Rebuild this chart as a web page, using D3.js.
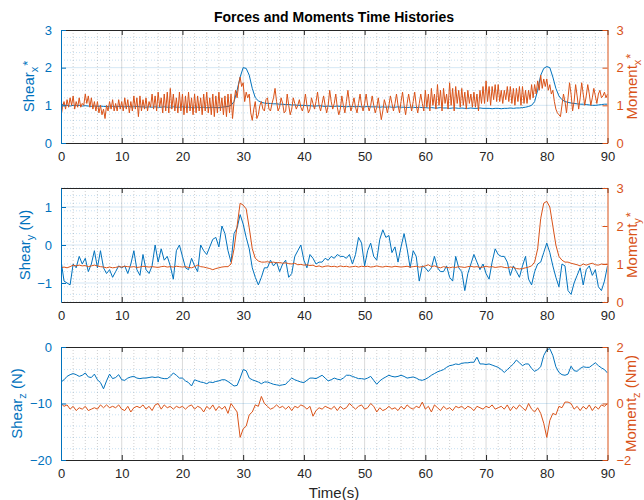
<!DOCTYPE html>
<html lang="en">
<head>
  <meta charset="UTF-8">
  <title>Forces and Moments Time Histories</title>
  <script src="https://d3js.org/d3.v7.min.js"></script>
  <style>
    body { margin: 0; background: #fff; }
    svg { font-family: "Liberation Sans", Arial, Helvetica, sans-serif; }
  </style>
</head>
<body>
  <svg id="chart" width="644" height="500"></svg>

  <script>
    // ---- data (shear/moment y,z every 0.5 s; moment x every 0.25 s; 0..90 s) ----
    const xTicks = [0, 10, 20, 30, 40, 50, 60, 70, 80, 90];

    const shearX = [
      1.05,1.0,1.0,0.98,1.0,0.99,1.0,0.98,0.99,0.98,0.97,0.98,0.97,0.98,0.97,0.97,0.96,0.97,0.96,0.97,
      0.97,0.96,0.97,0.96,0.96,0.97,0.96,0.96,0.95,0.96,0.95,0.96,0.95,0.95,0.96,0.95,0.95,0.96,0.95,0.95,
      0.96,0.95,0.95,0.94,0.95,0.95,0.94,0.95,0.94,0.94,0.95,0.94,0.94,0.95,0.96,0.97,1.0,1.1,1.4,1.75,
      2.0,1.98,1.8,1.45,1.2,1.12,1.08,1.06,1.05,1.05,1.04,1.04,1.03,1.03,1.02,1.02,1.01,1.01,1.0,1.0,
      1.0,0.99,0.99,0.98,0.98,0.99,0.98,0.97,0.98,0.97,0.97,0.98,0.97,0.97,0.96,0.97,0.97,0.96,0.97,0.96,
      0.96,0.97,0.96,0.96,0.96,0.95,0.96,0.95,0.96,0.95,0.95,0.96,0.95,0.95,0.94,0.95,0.95,0.94,0.95,0.94,
      0.94,0.93,0.94,0.93,0.93,0.94,0.93,0.93,0.92,0.93,0.93,0.92,0.93,0.92,0.92,0.93,0.92,0.92,0.93,0.92,
      0.92,0.92,0.91,0.92,0.92,0.91,0.92,0.92,0.93,0.92,0.93,0.93,0.94,0.95,0.97,1.0,1.1,1.4,1.8,1.98,
      2.03,2.0,1.75,1.45,1.25,1.15,1.1,1.08,1.06,1.05,1.04,1.03,1.03,1.02,1.01,1.0,1.0,1.01,1.02,1.03,1.03
    ];

    const momentX = [
      0.7,0.95,1.1,0.9, 1.15,0.95,1.2,1.0, 1.25,0.9,1.1,0.95, 1.2,0.95,1.05,1.0, 1.3,1.05,1.25,0.95,
      1.2,0.9,1.1,0.85, 1.1,0.8,1.0,0.75, 0.9,0.65,1.0,0.85, 1.1,0.9,1.15,0.85, 1.05,0.85,1.15,0.9,
      1.1,0.85,1.2,0.9, 1.15,0.8,1.1,0.85, 1.25,0.9,1.2,0.7, 1.25,0.85,1.15,0.9, 1.2,0.85,1.1,0.95,
      1.3,0.9,1.25,0.85, 1.35,0.95,1.2,0.8, 1.3,0.85,1.35,0.8, 1.45,0.9,1.3,0.85, 1.2,0.8,1.35,0.85,
      1.3,0.75,1.25,0.8, 1.35,0.85,1.2,0.75, 1.3,0.8,1.25,0.85, 1.2,0.75,1.3,0.85, 1.35,0.8,1.2,0.75,
      1.3,0.7,1.25,0.8, 1.35,0.85,1.2,0.75, 1.25,0.7,1.3,0.8, 1.3,0.65,1.1,1.4, 1.2,1.55,1.75,1.5,
      1.6,1.1,1.35,1.2, 1.3,0.8,0.6,0.9, 1.1,0.65,0.75,1.0, 1.1,0.9,0.85,1.15, 1.2,0.9,0.85,1.05,
      1.2,1.45,1.1,0.85, 0.95,1.2,1.05,0.8, 0.85,1.3,1.0,0.75, 0.9,1.2,1.05,0.9, 1.0,1.15,0.95,0.85,
      1.0,1.3,1.0,0.8, 0.9,1.2,1.05,0.9, 1.1,1.35,1.0,0.85, 1.05,1.25,1.0,0.8, 1.0,1.4,1.1,0.9,
      1.05,1.3,0.95,0.75, 0.9,1.25,1.0,0.8, 1.1,1.4,1.05,0.85, 1.0,1.2,0.95,0.8, 1.05,1.3,1.0,0.85,
      1.05,1.3,1.0,0.85, 1.0,1.25,1.0,0.8, 0.95,1.2,0.9,0.62, 0.85,1.15,1.0,0.8, 1.0,1.25,1.05,0.85,
      1.05,1.3,1.0,0.8, 1.1,1.35,1.0,0.75, 1.05,1.3,1.05,0.85, 1.1,1.35,1.0,0.8, 1.05,1.3,1.05,0.85,
      1.4,0.95,1.3,0.85, 1.45,1.0,1.3,0.9, 1.55,1.0,1.4,0.85, 1.45,1.05,1.3,0.9, 1.6,1.0,1.45,0.85,
      1.5,1.05,1.4,0.95, 1.45,1.0,1.35,0.9, 1.4,1.05,1.3,0.95, 1.35,0.95,1.3,0.85, 1.4,1.05,1.5,1.05,
      1.65,1.1,1.5,1.0, 1.5,1.15,1.55,1.1, 1.55,1.1,1.4,1.05, 1.4,1.15,1.5,1.1, 1.5,1.05,1.45,1.0,
      1.45,1.1,1.5,1.0, 1.5,1.05,1.4,1.05, 1.4,1.15,1.55,1.2, 1.55,1.3,1.65,1.4, 1.8,1.45,1.7,1.5,
      1.7,1.4,1.55,1.3, 1.4,1.1,0.9,0.8, 0.75,0.7,1.0,1.3, 1.1,0.8,1.2,1.6, 1.3,0.85,1.1,1.55,
      1.25,0.9,1.2,1.6, 1.3,1.0,1.25,1.55, 1.3,1.0,1.2,1.45, 1.25,1.05,1.3,1.4, 1.2,1.25,1.35,1.2,
      1.3
    ];

    const shearY = [
      -0.4,-0.95,-1.0,-1.05,-0.5,-0.6,-0.3,-0.5,-0.35,-0.7,-0.5,-0.15,-0.6,-0.15,-0.6,-0.75,-0.65,-0.85,-0.7,-0.55,
      -0.6,-0.55,-0.75,-0.5,-0.15,-0.65,-0.8,-0.25,-0.65,-0.75,-0.55,0.0,-0.45,-0.1,-0.4,-0.3,-0.55,-0.9,-0.15,0.0,
      -0.3,-0.6,-0.65,-0.35,-0.55,-0.7,0.0,-0.15,-0.25,-0.05,0.15,0.2,-0.05,0.5,0.3,-0.15,-0.45,0.3,0.45,0.8,
      0.55,0.2,-0.1,-0.6,-0.85,-1.05,-0.85,-0.6,-0.6,-0.4,-0.55,-0.45,-0.7,-0.5,-0.4,-0.85,-0.75,-0.3,-0.15,0.0,
      -0.4,-0.6,-0.25,-0.35,-0.5,-0.45,-0.45,-0.35,-0.4,-0.3,-0.35,-0.25,-0.3,-0.3,-0.35,-0.25,-0.5,-0.25,0.2,0.05,
      -0.55,-0.15,0.05,-0.3,-0.4,0.15,0.4,0.2,0.25,-0.2,-0.05,-0.45,-0.05,0.3,-0.1,-0.6,-0.15,-0.3,-0.95,-0.55,
      -0.6,-0.7,-0.6,-0.3,-0.6,-0.7,-0.7,-0.55,-0.85,-0.95,-0.3,-0.6,-0.7,-1.2,-0.75,-0.5,-0.25,-0.45,-0.65,-0.5,
      -0.75,-0.9,-0.45,-0.1,-0.25,-0.3,-0.3,-0.45,-0.8,-0.55,-0.7,-0.85,-0.55,-0.3,-0.9,-1.05,-0.7,-0.5,-0.45,-0.2,
      0.05,-0.2,-0.55,-0.85,-1.1,-0.5,-0.55,-1.2,-1.3,-1.0,-0.8,-0.6,-1.05,-0.65,-0.55,-0.8,-0.65,-1.1,-1.2,-0.95,-0.55
    ];

    const momentY = [
      0.9,0.92,0.9,0.93,0.97,0.95,0.97,0.95,0.96,0.93,0.95,0.97,0.95,0.93,0.92,0.9,0.92,0.9,0.91,0.93,
      0.92,0.94,0.93,0.92,0.93,0.91,0.92,0.94,0.93,0.92,0.93,0.92,0.91,0.93,0.94,0.92,0.93,0.92,0.94,0.93,
      0.92,0.93,0.91,0.9,0.93,0.97,0.93,0.92,0.9,0.88,0.85,0.88,0.9,0.92,0.93,0.93,1.0,1.4,2.0,2.6,
      2.55,2.45,1.95,1.4,1.15,1.08,1.05,1.05,1.06,1.04,1.05,1.03,1.04,1.02,1.03,1.01,1.0,1.02,0.98,0.99,
      0.97,0.98,0.96,0.97,0.93,0.95,0.92,0.94,0.95,0.93,0.94,0.92,0.95,0.93,0.94,0.92,0.93,0.94,0.92,0.94,
      0.93,0.94,0.92,0.93,0.95,0.93,0.92,0.94,0.93,0.92,0.94,0.93,0.92,0.93,0.94,0.92,0.93,0.94,0.92,0.93,
      0.95,0.98,0.93,0.95,0.92,0.9,0.93,0.91,0.9,0.92,0.91,0.93,0.92,0.91,0.93,0.94,0.92,0.93,0.91,0.92,
      0.94,0.92,0.93,0.91,0.92,0.93,0.91,0.9,0.92,0.91,0.88,0.87,0.88,0.9,0.92,0.95,1.05,1.4,2.2,2.6,
      2.65,2.5,2.0,1.5,1.2,1.1,1.05,1.05,1.02,1.0,0.98,0.95,1.0,0.97,1.0,1.02,0.98,0.97,1.0,0.99,1.0
    ];

    const shearZ = [
      -6.2,-5.8,-5.2,-4.9,-4.7,-4.9,-5.2,-5.0,-4.6,-5.3,-5.4,-4.8,-5.8,-6.3,-7.4,-6.0,-4.8,-5.6,-5.4,-4.9,
      -5.8,-5.9,-5.5,-5.3,-5.2,-5.5,-5.6,-5.5,-5.5,-5.4,-5.3,-5.4,-5.3,-5.5,-5.6,-5.6,-5.2,-4.6,-5.0,-5.5,
      -5.5,-6.0,-6.3,-6.9,-5.8,-6.0,-6.2,-6.3,-6.5,-6.2,-6.3,-6.1,-6.0,-5.8,-5.8,-6.1,-6.5,-6.9,-6.8,-5.5,
      -4.0,-4.2,-5.5,-5.8,-6.0,-6.2,-6.5,-6.2,-6.2,-6.4,-6.6,-6.7,-6.8,-6.7,-6.6,-6.0,-5.5,-5.8,-6.0,-6.2,
      -6.3,-5.9,-5.5,-5.5,-5.6,-5.3,-5.0,-5.5,-6.0,-5.8,-5.5,-5.7,-5.8,-5.5,-5.0,-5.0,-5.2,-5.4,-5.6,-5.6,
      -5.7,-5.5,-5.2,-5.9,-6.6,-6.0,-5.6,-5.3,-5.0,-5.2,-5.3,-5.2,-5.0,-5.2,-5.5,-5.4,-5.3,-5.5,-5.8,-5.9,
      -5.7,-5.4,-5.0,-4.7,-4.4,-4.2,-4.0,-3.6,-3.3,-3.2,-3.0,-3.1,-2.9,-2.8,-2.8,-2.7,-2.7,-1.8,-3.0,-3.0,
      -3.1,-3.0,-3.2,-3.4,-3.6,-4.0,-4.5,-4.0,-3.5,-3.0,-2.3,-2.8,-3.3,-3.0,-3.0,-3.8,-4.3,-4.0,-3.5,-1.5,
      -0.5,-0.3,-1.5,-3.5,-4.5,-4.9,-5.0,-4.8,-3.4,-4.2,-4.3,-3.8,-3.5,-3.6,-3.6,-3.2,-2.8,-3.3,-3.7,-4.0,-4.6
    ];

    const momentZ = [
      0.0,-0.1,-0.05,-0.2,-0.1,-0.25,-0.15,-0.2,-0.1,-0.25,-0.2,-0.15,-0.2,-0.05,-0.15,-0.05,-0.15,-0.1,-0.15,-0.05,
      -0.2,-0.25,-0.1,-0.3,-0.15,-0.1,-0.15,-0.05,-0.2,-0.1,-0.25,-0.05,0.0,-0.2,-0.05,-0.15,-0.1,-0.2,-0.1,-0.15,
      -0.1,-0.2,-0.1,-0.05,-0.2,-0.1,-0.15,-0.3,-0.1,-0.2,-0.05,-0.25,-0.1,-0.2,-0.1,-0.35,0.0,-0.15,-0.3,-1.2,
      -0.9,-0.8,-0.4,-0.3,-0.05,-0.1,0.25,0.0,-0.1,-0.2,-0.15,-0.05,-0.15,-0.1,-0.2,-0.1,-0.25,-0.1,-0.15,-0.05,
      -0.1,-0.2,-0.1,-0.45,-0.25,-0.15,-0.2,-0.1,-0.15,-0.2,-0.1,-0.25,-0.1,-0.2,-0.15,0.0,-0.1,-0.2,-0.1,-0.05,
      -0.2,-0.15,0.0,-0.1,-0.3,-0.15,-0.25,-0.2,-0.1,-0.2,-0.15,-0.25,-0.1,-0.2,-0.05,-0.15,-0.2,-0.1,-0.15,0.05,
      -0.2,-0.1,-0.3,-0.05,-0.15,-0.25,-0.1,-0.2,-0.15,-0.25,-0.1,-0.15,-0.1,-0.2,-0.1,-0.15,-0.25,-0.1,-0.15,-0.2,
      -0.1,-0.15,-0.05,-0.2,-0.15,-0.1,-0.2,-0.05,-0.25,-0.1,-0.2,-0.05,-0.15,-0.25,0.0,-0.2,-0.3,-0.15,-0.35,-0.7,
      -1.2,-0.6,-0.35,-0.4,-0.1,-0.15,0.05,0.05,0.0,-0.2,-0.1,-0.25,-0.1,-0.2,-0.05,-0.25,-0.1,-0.2,-0.05,-0.1,0.0
    ];

    // ---- layout ----
    const blue = "#0072BD", orange = "#D95319", dark = "#262626";
    const svg = d3.select("#chart");
    const x = d3.scaleLinear().domain([0, 90]).range([61, 607.5]);
    const fmt = d3.format("d");

    const panels = [
      { top: 30, bottom: 143, left: shearX, right: momentX,
        yL: [0, 3], ticksL: [0, 1, 2, 3], minorL: 0.2,
        yR: [0, 3], ticksR: [0, 1, 2, 3],
        labL: ["Shear", "x", "*", ""], labR: ["Moment", "x", "*", ""], labLx: 29, labRx: 632 },
      { top: 188, bottom: 302, left: shearY, right: momentY,
        yL: [-1.5, 1.5], ticksL: [-1, 0, 1], minorL: 0.2,
        yR: [0, 3], ticksR: [0, 1, 2, 3],
        labL: ["Shear", "y", "", " (N)"], labR: ["Moment", "y", "*", ""], labLx: 25, labRx: 632 },
      { top: 347, bottom: 460, left: shearZ, right: momentZ,
        yL: [-20, 0], ticksL: [-20, -10, 0], minorL: 2,
        yR: [-2, 2], ticksR: [-2, 0, 2],
        labL: ["Shear", "z", "", " (N)"], labR: ["Moment", "z", "", " (Nm)"], labLx: 17, labRx: 631 }
    ];

    svg.append("text")
      .attr("x", 334).attr("y", 22)
      .attr("text-anchor", "middle")
      .attr("font-size", 14).attr("font-weight", "bold").attr("fill", "#000")
      .text("Forces and Moments Time Histories");

    // rotated label like "Shear_x^*": subscript, then star just after it
    function texLabel(g, cx, cy, parts, color) {
      const t = g.append("text")
        .attr("transform", `translate(${cx},${cy}) rotate(-90)`)
        .attr("text-anchor", "middle")
        .attr("font-size", 15).attr("fill", color)
        .attr("dy", "0.35em");
      t.append("tspan").text(parts[0]);
      t.append("tspan").attr("font-size", 11).attr("dy", 4).text(parts[1]);
      if (parts[2]) t.append("tspan").attr("font-size", 13).attr("dx", 1).attr("dy", -6).text(parts[2]);
      if (parts[3]) t.append("tspan").attr("dy", parts[2] ? 2 : -4).text(parts[3]);
    }

    panels.forEach((p, k) => {
      const g = svg.append("g");
      const yL = d3.scaleLinear().domain(p.yL).range([p.bottom, p.top]);
      const yR = d3.scaleLinear().domain(p.yR).range([p.bottom, p.top]);
      const x0 = x.range()[0], x1 = x.range()[1];

      // minor grid
      g.append("g").selectAll("line")
        .data(d3.range(0, 90.01, 2).filter(v => v % 10 !== 0))
        .join("line")
        .attr("x1", d => x(d)).attr("x2", d => x(d))
        .attr("y1", p.top).attr("y2", p.bottom)
        .attr("stroke", "rgba(38,38,38,0.22)").attr("stroke-dasharray", "1,2");
      const minorY = d3.range(p.yL[0], p.yL[1] + 1e-9, p.minorL)
        .filter(v => p.ticksL.every(t => Math.abs(v - t) > 1e-6));
      g.append("g").selectAll("line")
        .data(minorY)
        .join("line")
        .attr("x1", x0).attr("x2", x1)
        .attr("y1", d => yL(d)).attr("y2", d => yL(d))
        .attr("stroke", "rgba(0,114,189,0.22)").attr("stroke-dasharray", "1,2");

      // major grid
      g.append("g").selectAll("line")
        .data(xTicks.slice(1, -1))
        .join("line")
        .attr("x1", d => x(d)).attr("x2", d => x(d))
        .attr("y1", p.top).attr("y2", p.bottom)
        .attr("stroke", "rgba(38,38,38,0.17)");
      g.append("g").selectAll("line")
        .data(p.ticksL.filter(t => yL(t) > p.top + 0.5 && yL(t) < p.bottom - 0.5))
        .join("line")
        .attr("x1", x0).attr("x2", x1)
        .attr("y1", d => yL(d)).attr("y2", d => yL(d))
        .attr("stroke", "rgba(0,114,189,0.17)");

      // clip
      const cid = "clip" + k;
      svg.append("clipPath").attr("id", cid).append("rect")
        .attr("x", x0).attr("y", p.top).attr("width", x1 - x0).attr("height", p.bottom - p.top);

      const lineL = d3.line().x((d, i) => x(i * 90 / (p.left.length - 1))).y(d => yL(d));
      const lineR = d3.line().x((d, i) => x(i * 90 / (p.right.length - 1))).y(d => yR(d));

      g.append("path").datum(p.left).attr("clip-path", `url(#${cid})`)
        .attr("d", lineL).attr("fill", "none").attr("stroke", blue).attr("stroke-width", 1);
      g.append("path").datum(p.right).attr("clip-path", `url(#${cid})`)
        .attr("d", lineR).attr("fill", "none").attr("stroke", orange).attr("stroke-width", 1);

      // axes: bottom + top
      g.append("g").attr("transform", `translate(0,${p.bottom})`)
        .call(d3.axisBottom(x).tickValues(xTicks).tickSizeInner(-5).tickSizeOuter(0).tickPadding(9))
        .call(a => a.select(".domain").attr("stroke", dark))
        .call(a => a.selectAll(".tick line").attr("stroke", dark))
        .call(a => a.selectAll("text").attr("font-size", 13).attr("fill", dark).attr("font-family", null));
      g.append("g").attr("transform", `translate(0,${p.top})`)
        .call(d3.axisTop(x).tickValues(xTicks).tickSizeInner(-5).tickSizeOuter(0).tickFormat(""))
        .call(a => a.select(".domain").attr("stroke", dark))
        .call(a => a.selectAll(".tick line").attr("stroke", dark));

      // left + right
      g.append("g").attr("transform", `translate(${x0},0)`)
        .call(d3.axisLeft(yL).tickValues(p.ticksL).tickFormat(fmt).tickSizeInner(-5).tickSizeOuter(0).tickPadding(9))
        .call(a => a.select(".domain").attr("stroke", blue))
        .call(a => a.selectAll(".tick line").attr("stroke", blue))
        .call(a => a.selectAll("text").attr("font-size", 13).attr("fill", blue).attr("font-family", null));
      g.append("g").attr("transform", `translate(${x1},0)`)
        .call(d3.axisRight(yR).tickValues(p.ticksR).tickFormat(fmt).tickSizeInner(-5).tickSizeOuter(0).tickPadding(9))
        .call(a => a.select(".domain").attr("stroke", orange))
        .call(a => a.selectAll(".tick line").attr("stroke", orange))
        .call(a => a.selectAll("text").attr("font-size", 13).attr("fill", orange).attr("font-family", null));

      const cy = (p.top + p.bottom) / 2;
      texLabel(g, p.labLx, cy, p.labL, blue);
      texLabel(g, p.labRx, cy, p.labR, orange);
    });

    svg.append("text")
      .attr("x", 334).attr("y", 498)
      .attr("text-anchor", "middle")
      .attr("font-size", 15).attr("fill", dark)
      .text("Time(s)");
  </script>
</body>
</html>
